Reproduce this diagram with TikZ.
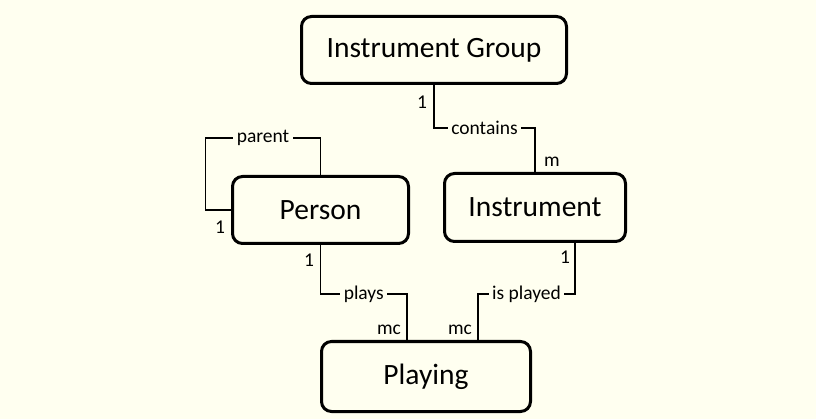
\documentclass[tikz,border=0pt]{standalone}
\usepackage{fontspec}
\setmainfont{Carlito}
\usetikzlibrary{calc}
\definecolor{bg}{RGB}{255,255,240}
\tikzset{
  ent/.style={draw=black, line width=3pt, rounded corners=10pt, fill=bg, font=\fontsize{29.5}{31}\selectfont, inner sep=0pt},
  conn/.style={line width=1.9pt, black},
  rel/.style={fill=bg, font=\fontsize{19.5}{21}\selectfont, inner sep=3.5pt},
  card/.style={font=\fontsize{19.5}{21}\selectfont, inner sep=0pt},
}
\begin{document}
\begin{tikzpicture}[x=1pt,y=-1pt]
\path[fill=bg] (0,0) rectangle (816,419);
\useasboundingbox (0,0) rectangle (816,419);

\node[ent, minimum width=265pt, minimum height=67pt] (ig) at (434,50) {Instrument Group};
\node[ent, minimum width=176pt, minimum height=67pt] (person) at (320.5,210) {Person};
\node[ent, minimum width=181pt, minimum height=68pt] (instr) at (535,207.5) {Instrument};
\node[ent, minimum width=209pt, minimum height=70pt] (playing) at (426,376.5) {Playing};

% contains
\draw[conn] (ig.south) -- ++(0,43) -| node[rel, pos=0.25] (lcontains) {contains} (instr.north);
% parent
\draw[conn] (person.north) -- ++(0,-37) -- node[rel] (lparent) {parent} ++(-115,0) |- (person.west);
% plays
\coordinate (pA) at ($(playing.north)+(-19,0)$);
\draw[conn] (person.south) |- node[rel, pos=0.75] (lplays) {plays} ($(pA)+(0,-46)$) -- (pA);
% is played
\coordinate (pB) at ($(playing.north)+(52,0)$);
\draw[conn] ($(instr.south)+(40,0)$) |- node[rel, pos=0.75] (lisplayed) {is played} ($(pB)+(0,-46)$) -- (pB);

% cardinalities
\node[card] (c1) at (422,102) {1};
\node[card] (c2) at (552,162) {m};
\node[card] (c3) at (220,227) {1};
\node[card] (c4) at (309,260) {1};
\node[card] (c5) at (389,330) {mc};
\node[card] (c6) at (460,330) {mc};
\node[card] (c7) at (565,257) {1};
\end{tikzpicture}
\end{document}
